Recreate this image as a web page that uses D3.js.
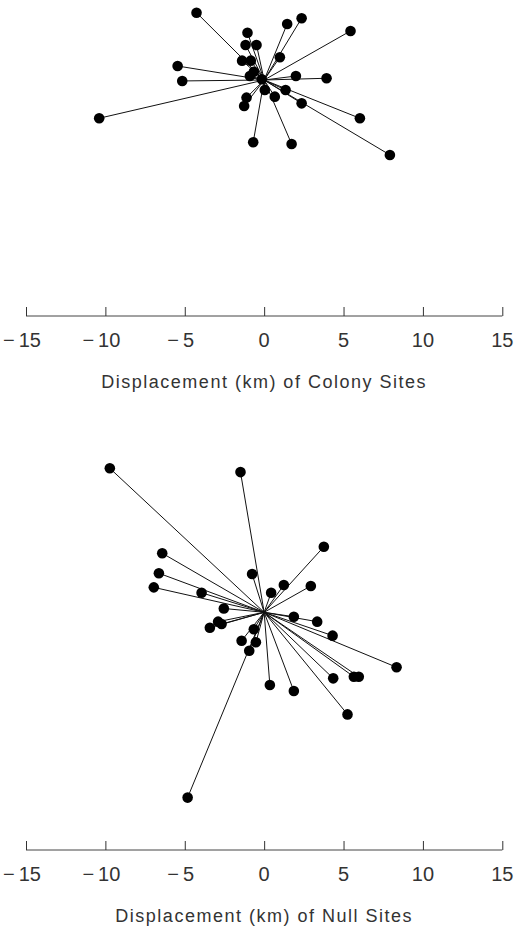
<!DOCTYPE html>
<html>
<head>
<meta charset="utf-8">
<script src="https://cdn.jsdelivr.net/npm/d3@7"></script>
<style>
  body { margin: 0; background: #fff; }
  text { font-family: "Liberation Sans", Arial, sans-serif; fill: #333; }
</style>
</head>
<body>
<div id="chart"></div>
<script>
// desplazamientos (km)
const colonyX = [-4.26, 2.36, 1.45, 5.44, -1.05, -1.17, -0.48, 0.99, -1.39, -0.84, -5.45, -0.65, -0.90, 2.00, 3.93, -5.16, -0.15, 0.04, 1.35, -1.11, 0.67, -1.26, 2.36, -10.39, 6.03, -0.69, 1.73, 7.92];
const colonyY = [4.24, 3.89, 3.53, 3.09, 2.98, 2.20, 2.20, 1.43, 1.22, 1.22, 0.88, 0.52, 0.25, 0.25, 0.11, -0.06, 0.05, -0.63, -0.63, -1.11, -1.05, -1.64, -1.47, -2.41, -2.41, -3.92, -4.03, -4.72];

const nullX = [-9.72, -1.49, 3.76, -6.42, -6.63, -0.76, -6.95, 1.24, 2.94, 0.44, -3.94, -2.54, 1.87, 3.34, 4.31, -2.90, -2.68, -3.42, -0.65, -1.42, -0.52, -0.94, 8.34, 4.35, 5.65, 5.96, 0.36, 1.87, 5.25, -4.82];
const nullY = [9.07, 8.83, 4.13, 3.72, 2.46, 2.41, 1.57, 1.72, 1.66, 1.23, 1.23, 0.24, -0.28, -0.59, -1.47, -0.59, -0.74, -0.97, -1.07, -1.79, -1.89, -2.42, -3.46, -4.16, -4.06, -4.06, -4.58, -4.96, -6.43, -11.67];

const tickValues = [-15, -10, -5, 0, 5, 10, 15];
const titles = ["Displacement (km) of Colony Sites", "Displacement (km) of Null Sites"];

const width = 514, height = 930;

const svg = d3.select("#chart").append("svg")
  .attr("width", width)
  .attr("height", height);

const x = d3.scaleLinear().domain([-15, 15]).range([26, 502.3]);
const pxPerKm = (x(15) - x(0)) / 15;

function panel(xs, ys, originY, axisY, title) {
  // misma escala en y que en x
  const y = d3.scaleLinear().domain([-15, 15])
    .range([originY + 15 * pxPerKm, originY - 15 * pxPerKm]);

  const g = svg.append("g");
  const pts = xs.map((v, i) => ({x: v, y: ys[i]}));

  g.selectAll(".link")
    .data(pts)
    .enter().append("line")
    .attr("x1", x(0)).attr("y1", y(0))
    .attr("x2", d => x(d.x)).attr("y2", d => y(d.y))
    .attr("stroke", "#111")
    .attr("stroke-width", 1);

  g.selectAll(".dot")
    .data(pts)
    .enter().append("circle")
    .attr("cx", d => x(d.x)).attr("cy", d => y(d.y))
    .attr("r", 5.3)
    .attr("fill", "#000");

  // eje con marcas hacia arriba
  const axis = d3.axisTop(x)
    .tickValues(tickValues)
    .tickSize(9)
    .tickFormat("");
  const ax = g.append("g")
    .attr("transform", `translate(0,${axisY})`)
    .call(axis);
  ax.select(".domain").attr("d", `M${x(-15)},0H${x(15)}`).attr("stroke", "#444");
  ax.selectAll(".tick line").attr("stroke", "#333");

  g.selectAll(".tlab")
    .data(tickValues)
    .enter().append("text")
    .attr("x", d => x(d) - (d < 0 ? 4 : 0))
    .attr("y", axisY + 31)
    .attr("text-anchor", "middle")
    .style("font-size", "20px")
    .text(d => d < 0 ? "\u2212\u2009" + Math.abs(d) : d);

  g.append("text")
    .attr("x", x(0))
    .attr("y", axisY + 72)
    .attr("text-anchor", "middle")
    .style("font-size", "18px")
    .style("letter-spacing", "1.5px")
    .text(title);
}

panel(colonyX, colonyY, 80, 316, titles[0]);
panel(nullX, nullY, 612.3, 850, titles[1]);
</script>
</body>
</html>
